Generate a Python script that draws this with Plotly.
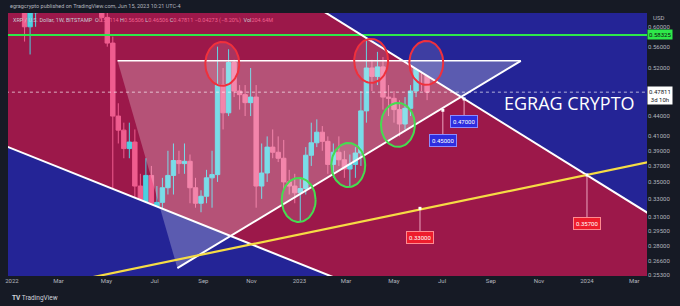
import numpy as np
import pandas as pd
import plotly.graph_objects as go

# ---------------- data (weekly XRP/USD, Bitstamp) ----------------
week_open = pd.date_range("2022-01-03", periods=76, freq="7D")
opens = [0.830, 0.745, 0.775, 0.600, 0.630, 0.835, 0.800, 0.760, 0.740, 0.760,
         0.800, 0.810, 0.850, 0.810, 0.750, 0.720, 0.700, 0.620, 0.567, 0.440,
         0.419, 0.393, 0.402, 0.345, 0.325, 0.358, 0.321, 0.326, 0.343, 0.358,
         0.377, 0.373, 0.376, 0.343, 0.325, 0.333, 0.355, 0.359, 0.490, 0.445,
         0.530, 0.480, 0.474, 0.461, 0.470, 0.345, 0.361, 0.395, 0.388, 0.380,
         0.350, 0.345, 0.337, 0.342, 0.384, 0.401, 0.416, 0.403, 0.372, 0.388,
         0.378, 0.366, 0.372, 0.387, 0.448, 0.520, 0.505, 0.522, 0.470, 0.468,
         0.450, 0.428, 0.452, 0.480, 0.530, 0.52114]
highs = [0.850, 0.800, 0.790, 0.650, 0.880, 0.910, 0.880, 0.800, 0.800, 0.820,
         0.820, 0.870, 0.870, 0.830, 0.780, 0.780, 0.720, 0.660, 0.580, 0.460,
         0.430, 0.430, 0.420, 0.360, 0.380, 0.370, 0.345, 0.355, 0.390, 0.400,
         0.390, 0.400, 0.385, 0.355, 0.340, 0.365, 0.390, 0.560, 0.520, 0.555,
         0.535, 0.490, 0.490, 0.520, 0.490, 0.400, 0.410, 0.420, 0.410, 0.405,
         0.365, 0.360, 0.355, 0.395, 0.430, 0.435, 0.425, 0.410, 0.400, 0.410,
         0.390, 0.385, 0.395, 0.480, 0.585, 0.535, 0.550, 0.540, 0.490, 0.480,
         0.465, 0.470, 0.490, 0.540, 0.550, 0.56506]
lows = [0.700, 0.720, 0.570, 0.545, 0.600, 0.780, 0.740, 0.640, 0.700, 0.740,
        0.770, 0.800, 0.800, 0.730, 0.690, 0.690, 0.610, 0.560, 0.330, 0.400,
        0.380, 0.380, 0.330, 0.287, 0.315, 0.300, 0.305, 0.305, 0.335, 0.335,
        0.360, 0.360, 0.325, 0.320, 0.315, 0.325, 0.320, 0.350, 0.420, 0.440,
        0.470, 0.450, 0.440, 0.440, 0.320, 0.330, 0.350, 0.380, 0.375, 0.340,
        0.335, 0.325, 0.305, 0.335, 0.370, 0.395, 0.390, 0.360, 0.355, 0.370,
        0.355, 0.345, 0.355, 0.370, 0.430, 0.480, 0.490, 0.450, 0.440, 0.430,
        0.410, 0.420, 0.440, 0.470, 0.480, 0.46506]
closes = [0.745, 0.775, 0.600, 0.630, 0.835, 0.800, 0.760, 0.740, 0.760, 0.800,
          0.810, 0.850, 0.810, 0.750, 0.720, 0.700, 0.620, 0.567, 0.440, 0.419,
          0.393, 0.402, 0.345, 0.325, 0.358, 0.321, 0.326, 0.343, 0.358, 0.377,
          0.373, 0.376, 0.343, 0.325, 0.333, 0.355, 0.359, 0.490, 0.445, 0.530,
          0.480, 0.474, 0.461, 0.470, 0.345, 0.361, 0.395, 0.388, 0.380, 0.350,
          0.345, 0.337, 0.342, 0.384, 0.401, 0.416, 0.403, 0.372, 0.388, 0.378,
          0.366, 0.372, 0.387, 0.448, 0.520, 0.505, 0.522, 0.470, 0.468, 0.450,
          0.428, 0.452, 0.480, 0.530, 0.521, 0.47811]

# drawing anchors (date, price)
left_fan = [("2021-11-25", 0.4093), ("2023-05-10", 0.2288)]
left_fan_floor = ("2021-11-25", 0.2288)
right_fan = [("2023-01-04", 0.6635), ("2024-05-24", 0.2804)]
right_fan_roof = ("2024-05-24", 0.682)
triangle = [("2022-05-15", 0.5331), ("2023-10-09", 0.5331), ("2022-07-30", 0.2595)]
yellow_line = [("2021-12-08", 0.2340), ("2024-05-24", 0.3891)]
resistance_level = 0.58325
last_price = 0.47811

red_circle_dates = ["2022-09-25", "2023-04-02", "2023-06-11"]
red_circle_prices = [0.5275, 0.5331, 0.5293]
green_circle_dates = ["2022-12-31", "2023-03-04", "2023-05-06"]
green_circle_prices = [0.3287, 0.3712, 0.4267]

note_dates = ["2023-07-29", "2023-07-02", "2023-06-03", "2024-01-01"]
note_anchor_prices = [0.467, 0.449, 0.3193, 0.3586]
note_box_prices = [0.4312, 0.4036, 0.2881, 0.3029]
note_texts = ["0.47000", "0.45000", "0.33000", "0.35700"]
note_kinds = ["blue", "blue", "red", "red"]

price_ticks = [0.60, 0.56, 0.52, 0.44, 0.41, 0.39, 0.37, 0.35, 0.33, 0.31,
               0.295, 0.28, 0.266, 0.253]
time_ticks = ["2022-01-01", "2022-03-01", "2022-05-01", "2022-07-01", "2022-09-01",
              "2022-11-01", "2023-01-01", "2023-03-01", "2023-05-01", "2023-07-01",
              "2023-09-01", "2023-11-01", "2024-01-01", "2024-03-01"]
time_labels = ["2022", "Mar", "May", "Jul", "Sep", "Nov", "2023", "Mar", "May",
               "Jul", "Sep", "Nov", "2024", "Mar"]

# ---------------- styles ----------------
CRIMSON = "#9c184a"
BLUE = "#242496"
DARK = "#161a25"
CYAN = "#4dd0e1"
PINK = "#ef5d8f"
FONT = "Roboto"

fig = go.Figure()

def xs(pts):
    return [p[0] for p in pts]

def ys(pts):
    return [p[1] for p in pts]

# background regions
lp = left_fan + [left_fan_floor]
fig.add_trace(go.Scatter(x=xs(lp), y=ys(lp), fill="toself", fillcolor=BLUE,
                         mode="lines", line=dict(width=0), hoverinfo="skip"))
rp = right_fan + [right_fan_roof]
fig.add_trace(go.Scatter(x=xs(rp), y=ys(rp), fill="toself", fillcolor=BLUE,
                         mode="lines", line=dict(width=0), hoverinfo="skip"))

# horizontal levels
fig.add_trace(go.Scatter(x=["2021-11-01", "2024-06-30"], y=[resistance_level] * 2,
                         mode="lines", line=dict(color="#2ee84a", width=2), hoverinfo="skip"))
fig.add_trace(go.Scatter(x=["2021-11-01", "2024-06-30"], y=[last_price] * 2,
                         mode="lines", line=dict(color="rgba(255,255,255,0.65)", width=1, dash="dot"),
                         hoverinfo="skip"))

# candles
fig.add_trace(go.Candlestick(
    x=week_open, open=opens, high=highs, low=lows, close=closes,
    increasing=dict(line=dict(color=CYAN, width=1), fillcolor=CYAN),
    decreasing=dict(line=dict(color=PINK, width=1), fillcolor=PINK),
    whiskerwidth=0, hoverinfo="skip"))

# translucent triangle
tp = triangle + [triangle[0]]
fig.add_trace(go.Scatter(x=xs(tp), y=ys(tp), fill="toself",
                         fillcolor="rgba(255,255,255,0.25)", mode="lines",
                         line=dict(width=0), hoverinfo="skip"))

# trend lines
for pts, col, w in [
    (left_fan, "white", 2),
    (right_fan, "white", 2),
    ([triangle[2], triangle[1]], "white", 2),
    ([triangle[0], triangle[1]], "white", 1.5),
    (yellow_line, "#f6dc45", 2.2),
]:
    fig.add_trace(go.Scatter(x=xs(pts), y=ys(pts), mode="lines",
                             line=dict(color=col, width=w), hoverinfo="skip"))

# ellipses
HALF_DAYS = 21.5
HALF_LOG = 0.0332
t = np.linspace(0, 2 * np.pi, 73)
def ellipse(date, price, color):
    c = pd.Timestamp(date)
    ex = [c + pd.Timedelta(days=float(HALF_DAYS * np.cos(a))) for a in t]
    ey = [10 ** (np.log10(price) + HALF_LOG * np.sin(a)) for a in t]
    fig.add_trace(go.Scatter(x=ex, y=ey, mode="lines", fill="toself",
                             fillcolor="rgba(255,255,255,0.12)",
                             line=dict(color=color, width=2), hoverinfo="skip"))

for d, p in zip(red_circle_dates, red_circle_prices):
    ellipse(d, p, "#f0303c")
for d, p in zip(green_circle_dates, green_circle_prices):
    ellipse(d, p, "#45dd50")

# price notes
for d, pa, pb, txt, kind in zip(note_dates, note_anchor_prices, note_box_prices,
                                note_texts, note_kinds):
    fig.add_trace(go.Scatter(x=[d, d], y=[pa, pb], mode="lines",
                             line=dict(color="rgba(255,200,220,0.8)", width=1), hoverinfo="skip"))
    fig.add_trace(go.Scatter(x=[d], y=[pa], mode="markers",
                             marker=dict(symbol="square", size=3, color="white"), hoverinfo="skip"))
    if kind == "blue":
        bg, bd = "#2d2de0", "#8c8cff"
    else:
        bg, bd = "#ee1c2c", "#ff8a90"
    fig.add_annotation(x=d, y=np.log10(pb), xref="x", yref="y", text=txt,
                       showarrow=False, bgcolor=bg, bordercolor=bd, borderwidth=1,
                       borderpad=2, font=dict(size=6, color="white", family=FONT))

# ---------------- layout ----------------
L, R, T, B = 5, 647, 13, 276
def px(x):
    return (x - L) / (R - L)
def py(y):
    return (B - y) / (B - T)

fig.update_layout(
    width=680, height=306, margin=dict(l=L, r=680 - R, t=T, b=306 - B),
    paper_bgcolor=DARK, plot_bgcolor=CRIMSON, showlegend=False,
    boxgap=0.2, boxgroupgap=0,
    xaxis=dict(type="date", range=["2021-12-26 23:00", "2024-03-17 05:00"],
               tickvals=time_ticks, ticktext=time_labels, showgrid=False,
               zeroline=False, showline=False, ticks="",
               tickfont=dict(size=6, color="#b2b5be", family=FONT),
               rangeslider=dict(visible=False)),
    yaxis=dict(type="log", side="right", range=[np.log10(0.2524), np.log10(0.6295)],
               tickvals=price_ticks, ticktext=[f"{v:.5f}" for v in price_ticks],
               showgrid=False, zeroline=False, showline=False, ticks="",
               tickfont=dict(size=6, color="#b2b5be", family=FONT)),
)

fig.add_annotation(xref="paper", yref="paper", x=px(5), y=py(6.5), xanchor="left",
                   yanchor="middle", showarrow=False,
                   text="egragcrypto published on TradingView.com, Jun 15, 2023 10:21 UTC-4",
                   font=dict(size=5.5, color="#b2b5be", family=FONT))
legend_txt = ("XRP / U.S. Dollar, 1W, BITSTAMP  "
              "O<span style='color:#f0608f'>0.52114</span> "
              "H<span style='color:#f0608f'>0.56506</span> "
              "L<span style='color:#f0608f'>0.46506</span> "
              "C<span style='color:#f0608f'>0.47811 −0.04273 (−8.20%)</span>  "
              "Vol<span style='color:#f0608f'>204.64M</span>")
fig.add_annotation(xref="paper", yref="paper", x=px(8), y=py(20), xanchor="left",
                   yanchor="middle", showarrow=False, text=legend_txt,
                   font=dict(size=5.5, color="#c8cad2", family=FONT))
fig.add_annotation(xref="paper", yref="paper", x=px(569), y=py(103), xanchor="center",
                   yanchor="middle", showarrow=False, text="EGRAG CRYPTO",
                   font=dict(size=18, color="white", family="Open Sans"))
fig.add_annotation(xref="paper", yref="paper", x=px(651), y=py(17), xanchor="left",
                   yanchor="middle", showarrow=False, text="USD",
                   font=dict(size=6, color="#b2b5be", family=FONT))
fig.add_annotation(xref="paper", yref="y", x=1.0, y=np.log10(resistance_level),
                   xanchor="left", yanchor="middle", showarrow=False, text="0.58325",
                   bgcolor="#2ee84a", borderpad=1,
                   font=dict(size=6, color="#0d0d0d", family=FONT))
fig.add_annotation(xref="paper", yref="y", x=1.0, y=np.log10(last_price), yshift=-3,
                   xanchor="left", yanchor="middle", showarrow=False,
                   text="0.47811<br>3d 10h", bgcolor="white", borderpad=1,
                   font=dict(size=6, color="#131722", family=FONT))
fig.add_annotation(xref="paper", yref="paper", x=px(7), y=py(298), xanchor="left",
                   yanchor="middle", showarrow=False,
                   text="<b>TV</b> TradingView",
                   font=dict(size=6.5, color="#d1d4dc", family=FONT))

fig.write_html("out.html")
